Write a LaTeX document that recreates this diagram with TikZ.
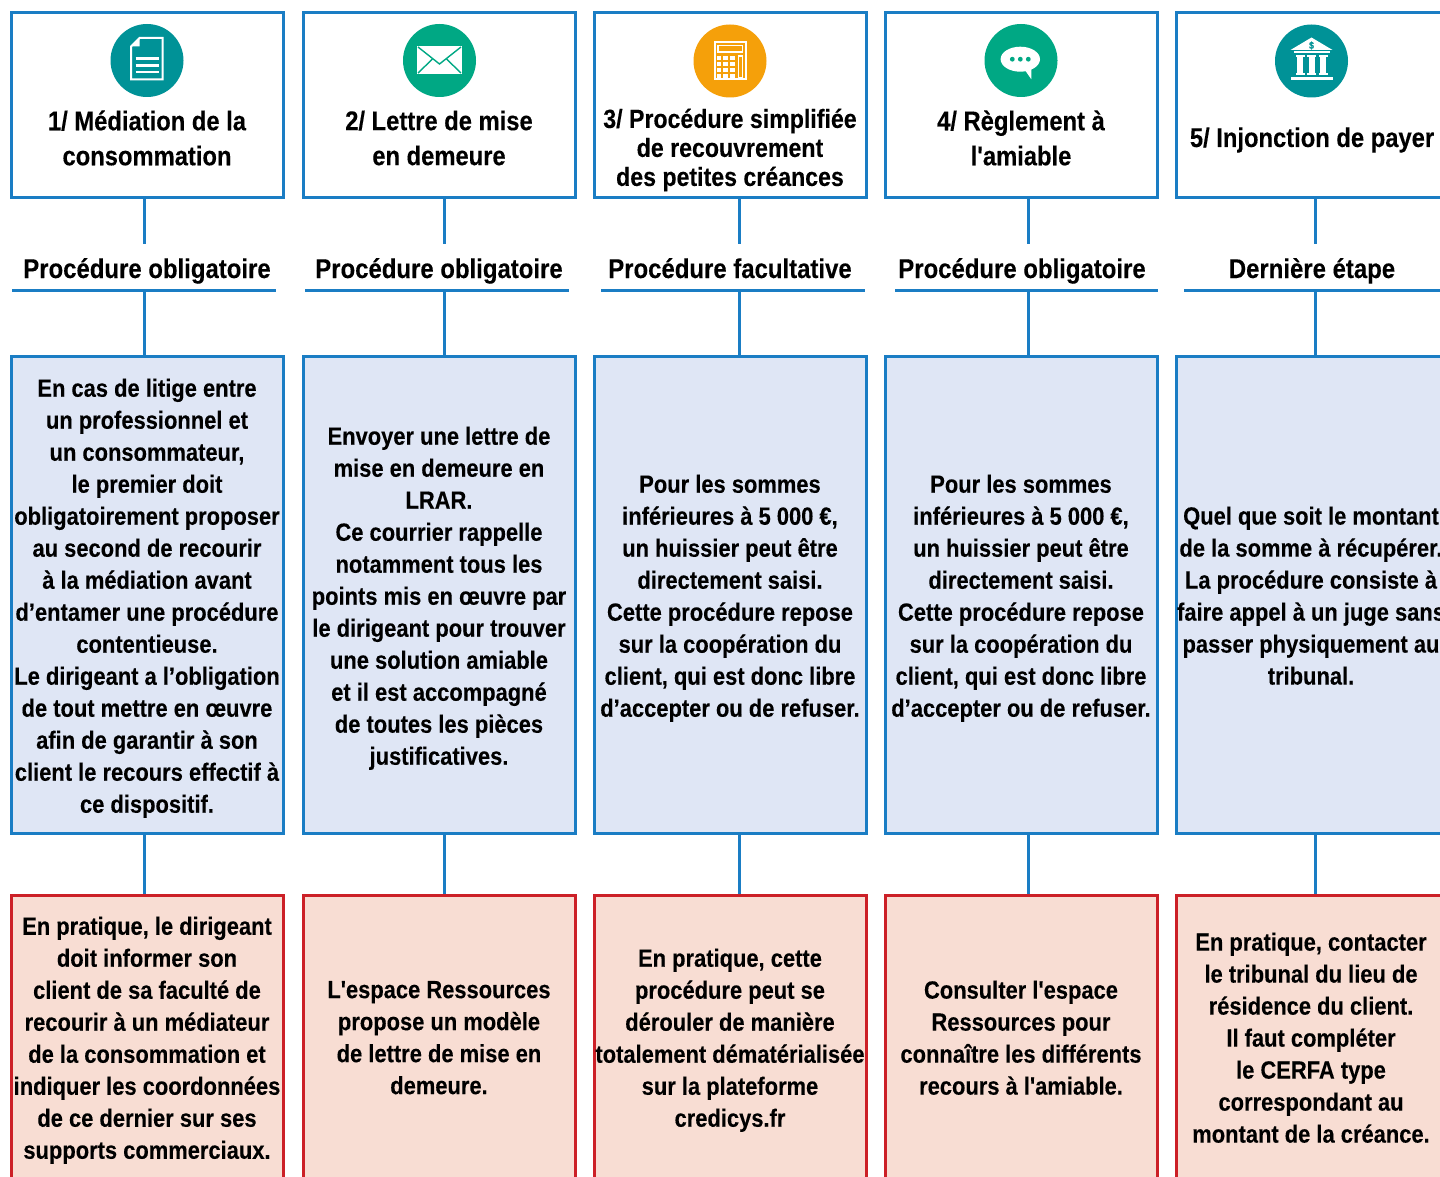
\documentclass[tikz,border=0pt]{standalone}
\usepackage{fontspec}
\newfontfamily\nfont{Liberation Sans}[FakeStretch=0.88,FakeBold=0.2]
\definecolor{bordblue}{RGB}{26,125,196}
\definecolor{fillblue}{RGB}{223,230,245}
\definecolor{bordred}{RGB}{204,32,39}
\definecolor{fillred}{RGB}{248,221,211}
\definecolor{iconteal}{RGB}{0,146,151}
\definecolor{icongreen}{RGB}{0,168,132}
\definecolor{iconorange}{RGB}{245,160,10}
\begin{document}
\begin{tikzpicture}[x=1pt,y=-1pt,
  boxbase/.style={line width=3pt, minimum width=272pt, inner sep=0pt},
  topbox/.style={boxbase, draw=bordblue, fill=white, minimum height=185pt},
  bluebox/.style={boxbase, draw=bordblue, fill=fillblue, minimum height=477pt},
  redbox/.style={boxbase, draw=bordred, fill=fillred, minimum height=300pt},
  conn/.style={draw=bordblue, line width=3pt},
  rule/.style={draw=bordblue, line width=3pt},
  titletxt/.style={align=center, inner sep=0pt, font=\nfont\bfseries\fontsize{27}{35}\selectfont},
  headtxt/.style={anchor=base, inner sep=0pt, text height=34pt, text depth=13pt, font=\nfont\bfseries\fontsize{27.2}{32}\selectfont},
  bodytxt/.style={align=center, inner sep=0pt, font=\nfont\bfseries\fontsize{24.9}{32}\selectfont},
  iconcirc/.style={circle, minimum size=73pt, inner sep=0pt}
]
\clip (0,0) rectangle (1440,1177);
\useasboundingbox (0,0) rectangle (1440,1177);
\fill[white] (0,0) rectangle (1440,1177);

% boxes
\foreach \i/\x/\c in {1/147/144, 2/439/444, 3/730/739, 4/1021/1028, 5/1312/1315} {
  \node[topbox] (t\i) at (\x,105.5) {};
  \node[bluebox] (b\i) at (\x,594.5) {};
  \node[redbox] (r\i) at (\x,1045) {};
  \coordinate (k\i) at (\c,0);
}

% headers
\node[headtxt] (h1) at (147,278) {Procédure obligatoire};
\node[headtxt] (h2) at (439,278) {Procédure obligatoire};
\node[headtxt] (h3) at (730,278) {Procédure facultative};
\node[headtxt] (h4) at (1022,278) {Procédure obligatoire};
\node[headtxt] (h5) at (1312,278) {Dernière étape};

\foreach \a/\b in {12/276, 305/569, 601/865, 895/1158, 1184/1448}
  \draw[rule] (\a,290) -- (\b,290);

% connectors
\foreach \i in {1,...,5} {
  \draw[conn] (t\i.south -| k\i) -- (h\i.north -| k\i);
  \draw[conn] (h\i.south -| k\i) -- (b\i.north -| k\i);
  \draw[conn] (b\i.south -| k\i) -- (r\i.north -| k\i);
}

% titles
\node[titletxt] (ti1) at (147,138) {1/ Médiation de la\\consommation};
\node[titletxt] (ti2) at (439,138) {2/ Lettre de mise\\en demeure};
\node[titletxt, font=\nfont\bfseries\fontsize{26.3}{29}\selectfont] (ti3) at (730,150) {3/ Procédure simplifiée\\de recouvrement\\des petites créances};
\node[titletxt] (ti4) at (1021,138) {4/ Règlement à\\l'amiable};
\node[titletxt] (ti5) at (1312,140) {5/ Injonction de payer};

% icons
\node[iconcirc, fill=iconteal] (i1) at (147,60.5) {};
\node[iconcirc, fill=icongreen] (i2) at (439.5,60.5) {};
\node[iconcirc, fill=iconorange] (i3) at (730,61) {};
\node[iconcirc, fill=icongreen] (i4) at (1021,60.5) {};
\node[iconcirc, fill=iconteal] (i5) at (1311.5,61) {};

% document icon
\begin{scope}[shift={(147,60.5)}, white, line width=2pt]
  \draw (-7.5,-22.5) -- (15.5,-22.5) -- (15.5,19) -- (-16,19) -- (-16,-14) -- cycle;
  \fill (-7.5,-22.5) -- (-16,-14) -- (-7.5,-14) -- cycle;
  \draw[line width=2.2pt] (-11.5,-2) -- (11.5,-2) (-11.5,5) -- (11.5,5) (-11.5,11.5) -- (11.5,11.5);
\end{scope}
% envelope icon
\begin{scope}[shift={(439.5,60)}]
  \fill[white] (-22.5,-14) rectangle (22.5,14);
  \draw[icongreen, line width=1.4pt] (-21.5,-13) -- (0,4) -- (21.5,-13);
  \draw[icongreen, line width=1.4pt] (-21.5,13) -- (-7,-1) (21.5,13) -- (7,-1);
\end{scope}
% calculator icon
\begin{scope}[shift={(730,61)}, white]
  \draw[line width=2pt] (-15,-19) rectangle (15.5,18);
  \draw[line width=1.5pt] (-12,-15.5) rectangle (12.5,-9);
  \foreach \dx in {-11,-4.3,2.3} \foreach \dy in {-3.3,3,9,15}
    \fill (\dx-2.3,\dy-2) rectangle (\dx+2.3,\dy+2);
  \draw[line width=1.2pt] (8.5,-5) rectangle (12.5,16.5);
\end{scope}
% speech bubble icon
\begin{scope}[shift={(1020.3,59.2)}]
  \fill[white] (0,0) ellipse [x radius=19.7, y radius=12.5];
  \fill[white] (4,10) -- (11,20) -- (11,8) -- cycle;
  \foreach \dx in {-8,0,8} \fill[icongreen] (\dx,0) circle (2.4);
\end{scope}
% bank icon
\begin{scope}[shift={(1311.5,61)}, white]
  \fill (-21,-11) -- (0,-23.5) -- (21,-11) -- cycle;
  \fill (-18,-9.5) rectangle (18,-7.5);
  \foreach \dx in {-11.5,0,11.5} {
    \fill (\dx-4.5,-6) rectangle (\dx+4.5,-4);
    \fill (\dx-3,-4) rectangle (\dx+3,13);
    \fill (\dx-4.5,12.5) rectangle (\dx+4.5,14.5);
  }
  \fill (-21,16) rectangle (21,19);
  \node[inner sep=0pt, text=iconteal, font=\nfont\bfseries\fontsize{10}{10}\selectfont] (dollar) at (0,-15.5) {\$};
\end{scope}

% blue texts
\node[bodytxt] (bt1) at (147,598.3) {En cas de litige entre\\un professionnel et\\un consommateur,\\le premier doit\\obligatoirement proposer\\au second de recourir\\à la médiation avant\\d’entamer une procédure\\contentieuse.\\Le dirigeant a l’obligation\\de tout mettre en œuvre\\afin de garantir à son\\client le recours effectif à\\ce dispositif.};
\node[bodytxt] (bt2) at (439,598.3) {Envoyer une lettre de\\mise en demeure en\\LRAR.\\Ce courrier rappelle\\notamment tous les\\points mis en œuvre par\\le dirigeant pour trouver\\une solution amiable\\et il est accompagné\\de toutes les pièces\\justificatives.};
\node[bodytxt] (bt3) at (730,598.3) {Pour les sommes\\inférieures à 5~000~€,\\un huissier peut être\\directement saisi.\\Cette procédure repose\\sur la coopération du\\client, qui est donc libre\\d’accepter ou de refuser.};
\node[bodytxt] (bt4) at (1021,598.3) {Pour les sommes\\inférieures à 5~000~€,\\un huissier peut être\\directement saisi.\\Cette procédure repose\\sur la coopération du\\client, qui est donc libre\\d’accepter ou de refuser.};
\node[bodytxt] (bt5) at (1311,595.7) {Quel que soit le montant\\de la somme à récupérer.\\La procédure consiste à\\faire appel à un juge sans\\passer physiquement au\\tribunal.};

% red texts
\node[bodytxt] (rt1) at (147,1040.3) {En pratique, le dirigeant\\doit informer son\\client de sa faculté de\\recourir à un médiateur\\de la consommation et\\indiquer les coordonnées\\de ce dernier sur ses\\supports commerciaux.};
\node[bodytxt] (rt2) at (439,1037.7) {L'espace Ressources\\propose un modèle\\de lettre de mise en\\demeure.};
\node[bodytxt] (rt3) at (730,1040.3) {En pratique, cette\\procédure peut se\\dérouler de manière\\totalement dématérialisée\\sur la plateforme\\credicys.fr};
\node[bodytxt] (rt4) at (1021,1037.7) {Consulter l'espace\\Ressources pour\\connaître les différents\\recours à l'amiable.};
\node[bodytxt] (rt5) at (1311,1037.7) {En pratique, contacter\\le tribunal du lieu de\\résidence du client.\\Il faut compléter\\le CERFA type\\correspondant au\\montant de la créance.};
\end{tikzpicture}
\end{document}
